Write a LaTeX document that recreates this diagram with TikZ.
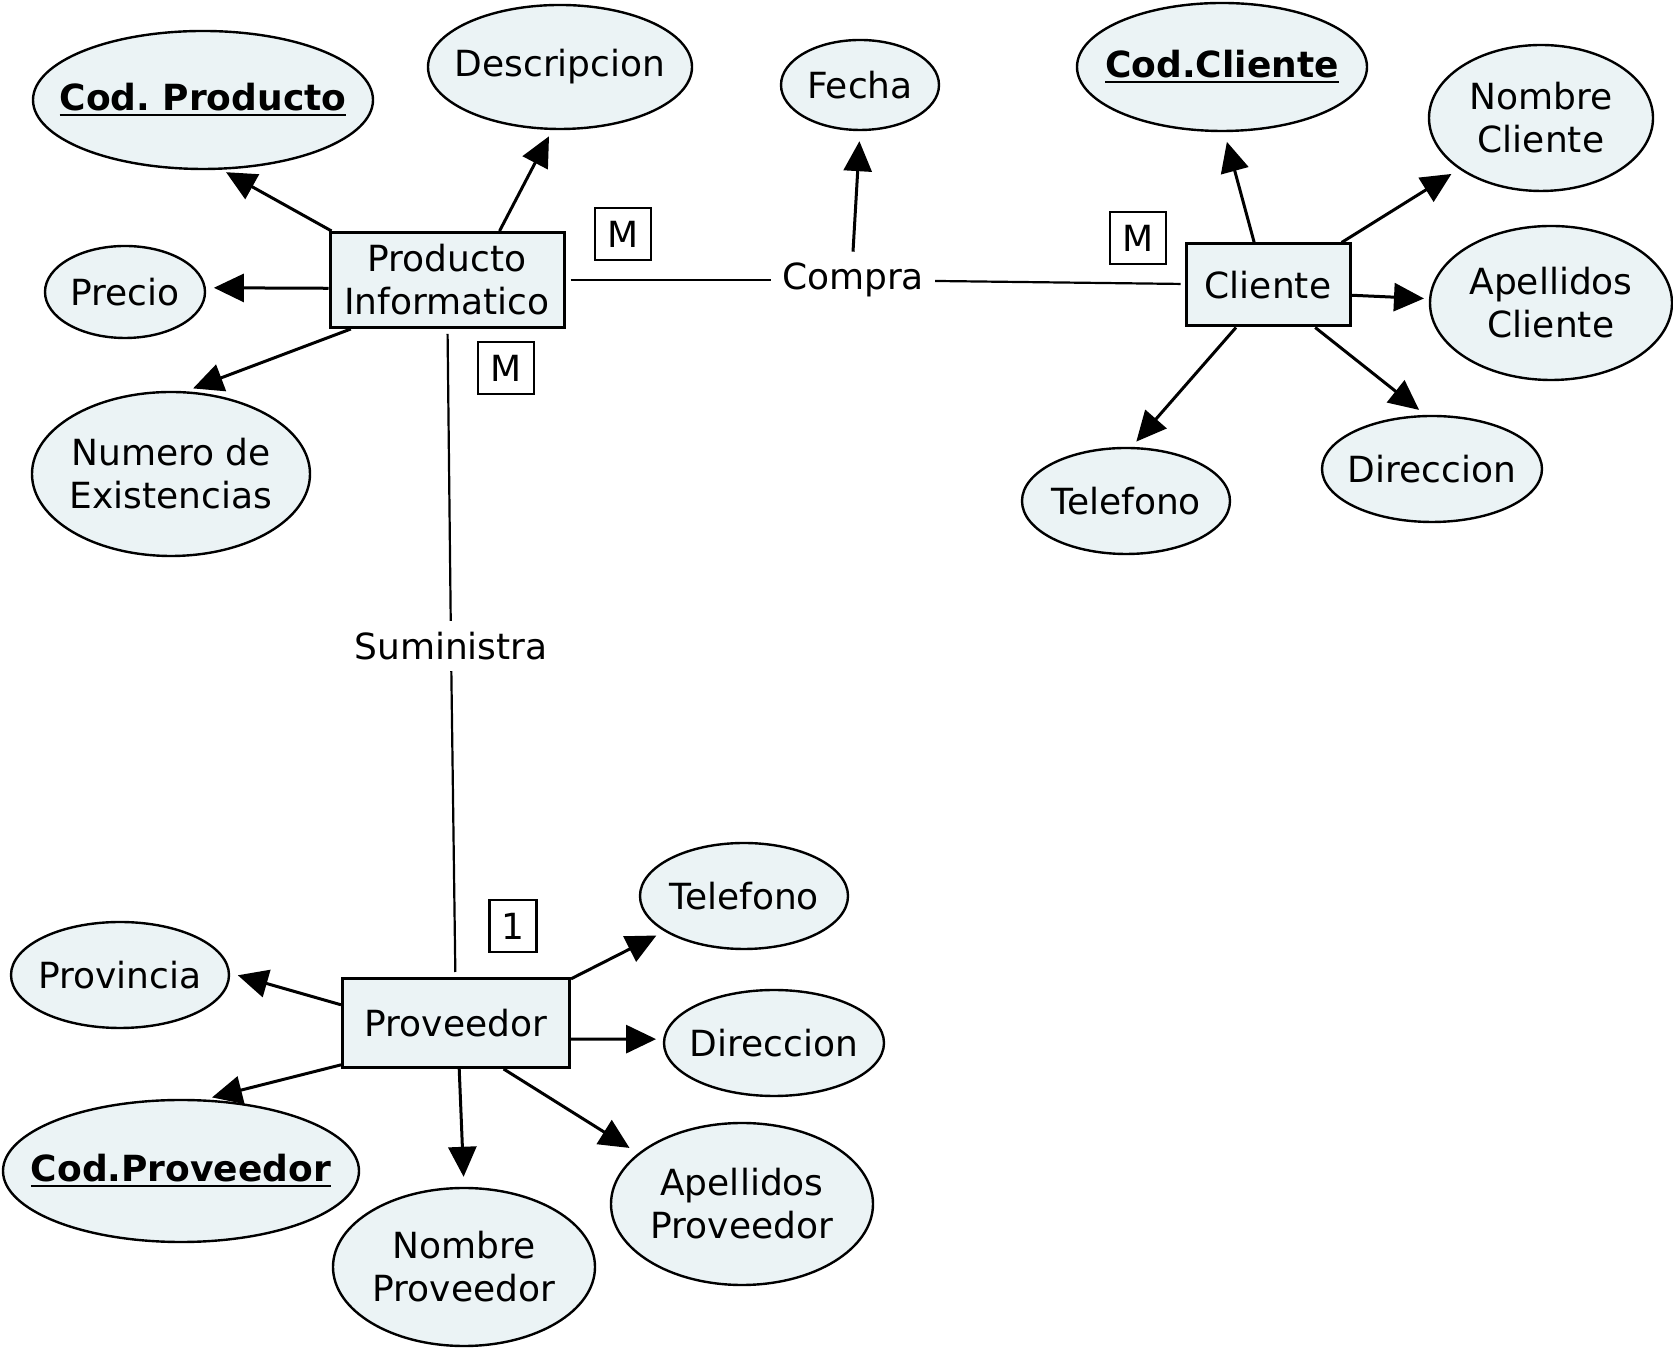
\documentclass[tikz,border=0pt]{standalone}
\usepackage{fontspec}
\setmainfont{DejaVu Sans}
\usetikzlibrary{arrows.meta,shapes.geometric}
\definecolor{relleno}{RGB}{235,243,245}
\frenchspacing
\newcommand{\clave}[1]{\setbox0=\hbox{\bfseries #1}\rlap{\copy0}\rule[-5.5bp]{\wd0}{2.8bp}}
\tikzset{
  entidad/.style={draw,line width=3bp,fill=relleno,align=center},
  atributo/.style={ellipse,draw,line width=2.4bp,fill=relleno,align=center,inner xsep=-30bp,inner ysep=0pt},
  card/.style={draw,line width=2.2bp,minimum width=56bp,minimum height=52bp,inner sep=0pt},
  relacion/.style={inner sep=11bp},
  flecha/.style={line width=3bp,-{Triangle[length=30bp,width=28bp]}},
  enlace/.style={line width=2.2bp}
}
\begin{document}
\begin{tikzpicture}[every node/.style={font=\fontsize{36bp}{43bp}\selectfont}]
\useasboundingbox (0,0) rectangle (1673bp,1348bp);
\node[entidad,minimum width=234bp,minimum height=95bp] (prod) at (447bp,1068bp) {Producto\\Informatico};
\node[entidad,minimum width=164bp,minimum height=82bp] (cli) at (1268bp,1063bp) {Cliente};
\node[entidad,minimum width=227bp,minimum height=89bp] (prov) at (456bp,325bp) {Proveedor};

\node[atributo,minimum width=340bp,minimum height=138bp] (codprod) at (203bp,1248bp) {\clave{Cod. Producto}};
\node[atributo,minimum width=264bp,minimum height=124bp] (desc) at (560bp,1281bp) {Descripcion};
\node[atributo,minimum width=160bp,minimum height=92bp] (precio) at (125bp,1056bp) {Precio};
\node[atributo,minimum width=278bp,minimum height=164bp] (numex) at (171bp,874bp) {Numero de\\Existencias};
\node[atributo,minimum width=158bp,minimum height=90bp] (fecha) at (860bp,1263bp) {Fecha};
\node[atributo,minimum width=290bp,minimum height=128bp] (codcli) at (1222bp,1281bp) {\clave{Cod.Cliente}};
\node[atributo,minimum width=224bp,minimum height=146bp] (nomcli) at (1541bp,1230bp) {Nombre\\Cliente};
\node[atributo,minimum width=242bp,minimum height=154bp] (apecli) at (1551bp,1045bp) {Apellidos\\Cliente};
\node[atributo,minimum width=220bp,minimum height=106bp] (dircli) at (1432bp,879bp) {Direccion};
\node[atributo,minimum width=208bp,minimum height=106bp] (telcli) at (1126bp,847bp) {Telefono};
\node[atributo,minimum width=218bp,minimum height=106bp] (provin) at (120bp,373bp) {Provincia};
\node[atributo,minimum width=208bp,minimum height=106bp] (telprov) at (744bp,452bp) {Telefono};
\node[atributo,minimum width=220bp,minimum height=106bp] (dirprov) at (774bp,305bp) {Direccion};
\node[atributo,minimum width=356bp,minimum height=142bp] (codprov) at (181bp,177bp) {\clave{Cod.Proveedor}};
\node[atributo,minimum width=262bp,minimum height=158bp] (nomprov) at (464bp,81bp) {Nombre\\Proveedor};
\node[atributo,minimum width=262bp,minimum height=162bp] (apeprov) at (742bp,144bp) {Apellidos\\Proveedor};

\node[relacion] (compra) at (853bp,1068bp) {Compra};
\node[relacion] (sum) at (451bp,702bp) {Suministra};

\node[card] (mcompra) at (623bp,1114bp) {M};
\node[card] (mcli) at (1138bp,1110bp) {M};
\node[card] (msum) at (506bp,980bp) {M};
\node[card,minimum width=47bp] (uno) at (513bp,422bp) {1};

\draw[enlace,shorten <=5bp] (prod) -- (compra);
\draw[enlace,shorten >=4bp] (compra) -- (cli);
\draw[enlace,shorten <=5bp] (prod) -- (sum);
\draw[enlace,shorten >=5bp] (sum) -- (prov);

\draw[flecha,shorten >=10bp] (compra.north) -- (fecha.south);
\draw[flecha,shorten >=5bp] (prod.157) -- (codprod.-75);
\draw[flecha,shorten >=7bp] (prod.43) -- (desc.-97);
\draw[flecha,shorten >=8bp] (prod.184) -- (precio.3);
\draw[flecha,shorten >=8bp] (prod.207) -- (numex.80);

\draw[flecha,shorten >=10bp] (cli.108) -- (codcli.-88);
\draw[flecha,shorten >=9bp] (cli.30) -- (nomcli.212);
\draw[flecha,shorten >=5bp] (cli.-7) -- (apecli.178);
\draw[flecha,shorten >=8bp] (cli.-42) -- (dircli.97);
\draw[flecha,shorten >=7bp] (cli.233) -- (telcli.84);

\draw[flecha,shorten >=8bp] (prov.171) -- (provin.1);
\draw[flecha,shorten >=8bp] (prov.200) -- (codprov.72);
\draw[flecha,shorten >=10bp] (prov.-86) -- (nomprov.90);
\draw[flecha,shorten >=10bp] (prov.-44) -- (apeprov.154);
\draw[flecha,shorten >=7bp] (prov.-8) -- (dirprov.178);
\draw[flecha,shorten >=9bp] (prov.21) -- (telprov.204);
\end{tikzpicture}
\end{document}
